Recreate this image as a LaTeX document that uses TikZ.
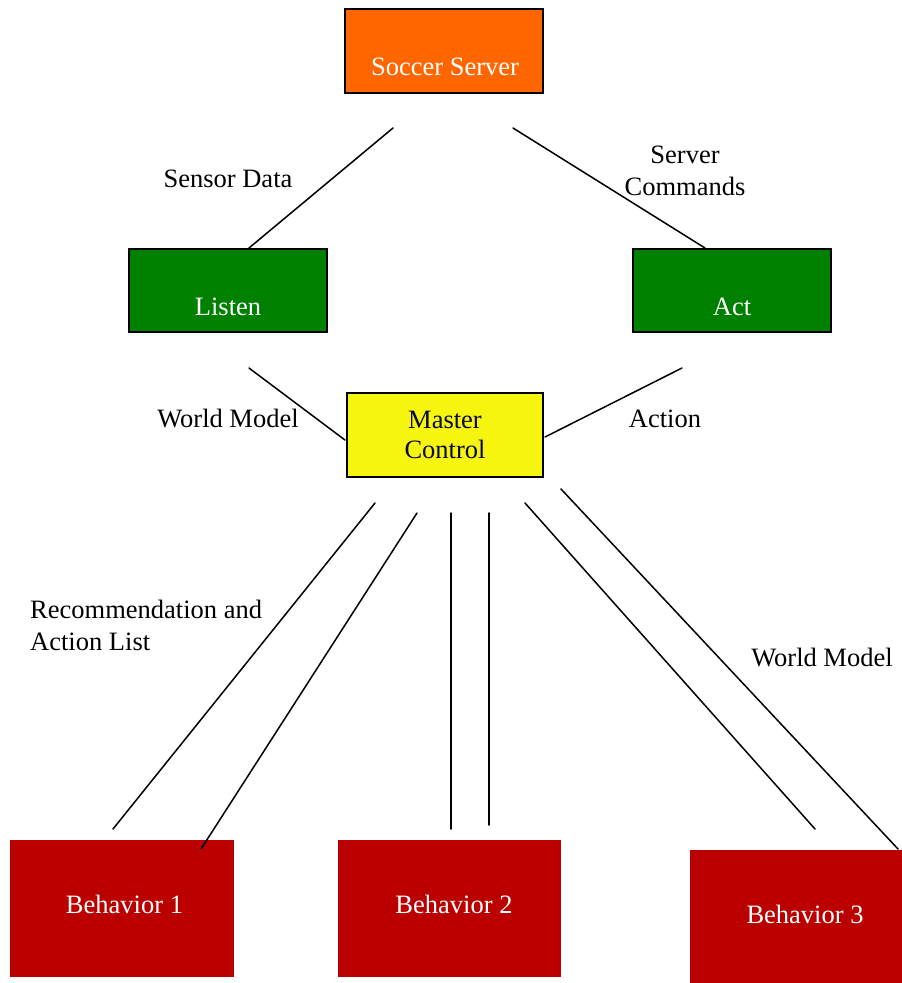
\documentclass[tikz,border=0pt]{standalone}
\usepackage{fontspec}
\setmainfont{Liberation Serif}
\usepackage{tikz}
\usetikzlibrary{calc}
\definecolor{serverorange}{RGB}{255,102,0}
\definecolor{layergreen}{RGB}{0,128,0}
\definecolor{masteryellow}{RGB}{245,245,15}
\definecolor{behavred}{RGB}{187,0,0}
\definecolor{masterink}{RGB}{10,10,60}

\begin{document}
\begin{tikzpicture}[
    x=1pt,y=-1pt,
    txt/.style={font=\fontsize{26.5}{32}\selectfont,inner sep=0pt},
    box/.style={draw=black,line width=2pt,inner sep=0pt},
    wire/.style={line width=1.5pt,line cap=round},
  ]
  \useasboundingbox (0,0) rectangle (902,983);

  % ---------------------------------------------------------------- boxes
  \node[box,fill=serverorange,minimum width=198,minimum height=84] (server) at (444,51) {};
  \node[box,fill=layergreen,minimum width=198,minimum height=83] (listen) at (228,290.5) {};
  \node[box,fill=layergreen,minimum width=198,minimum height=83] (act) at (732,290.5) {};
  \node[box,fill=masteryellow,minimum width=196,minimum height=84] (master) at (445,435) {};
  \fill[behavred] (10,840) rectangle (234,977);
  \fill[behavred] (338,840) rectangle (561,977);
  \fill[behavred] (690,850) rectangle (902,983);

  % box texts (set on their base lines)
  \node[txt,white,anchor=base] (server-txt) at (445,75) {Soccer Server};
  \node[txt,white,anchor=base] (listen-txt) at (228,315) {Listen};
  \node[txt,white,anchor=base] (act-txt) at (732,315) {Act};
  \node[txt,masterink,anchor=base] (master-txt1) at (445,428) {Master};
  \node[txt,masterink,anchor=base] (master-txt2) at (445,458) {Control};
  \node[txt,white,anchor=base] (b1) at (124.5,913) {Behavior 1};
  \node[txt,white,anchor=base] (b2) at (454,913) {Behavior 2};
  \node[txt,white,anchor=base] (b3) at (805,923) {Behavior 3};

  % ---------------------------------------------------------------- wires
  % name / upper end / lower end
  \foreach \w/\xa/\ya/\xb/\yb in {sd/393/128/249/248, sc/513/128/705/248,
      wm/249/368/345/440, ac/682/368/545/437,
      ra/375/503/113/829, rb/417/513/201/849,
      ma/451/513/451/829, mb/489/513/489/825,
      wa/525/503/815/829, wb/561/489/898/849} {
    \coordinate (\w-a) at (\xa,\ya);
    \coordinate (\w-b) at (\xb,\yb);
    \draw[wire] (\w-a) -- (\w-b);
  }

  % ---------------------------------------------------------------- labels
  \node[txt,anchor=base] (l-sensor) at (228,187) {Sensor Data};
  \node[txt,anchor=base] (l-cmd1) at (685,163) {Server};
  \node[txt,anchor=base] (l-cmd2) at (685,195) {Commands};
  \node[txt,anchor=base] (l-world) at (228,427) {World Model};
  \node[txt,anchor=base] (l-action) at (665,427) {Action};
  \node[txt,anchor=base west] (l-rec1) at (30,618) {Recommendation and};
  \node[txt,anchor=base west] (l-rec2) at (30,650) {Action List};
  \node[txt,anchor=base] (l-world2) at (822,666) {World Model};
\end{tikzpicture}
\end{document}
